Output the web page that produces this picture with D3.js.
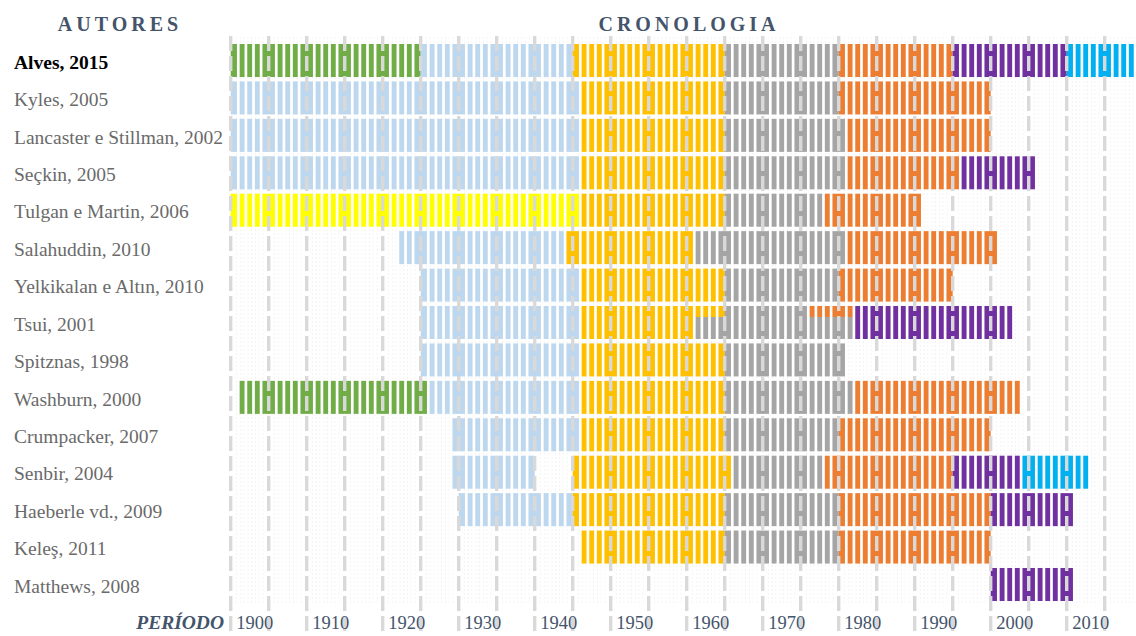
<!DOCTYPE html>
<html>
<head>
<meta charset="utf-8">
<script src="https://cdn.jsdelivr.net/npm/d3@7"></script>
<style>
  body { margin: 0; background: #fff; }
  svg { display: block; }
</style>
</head>
<body>
<svg class="cronologia-chart"></svg>
<script>
var autores = ["Alves, 2015", "Kyles, 2005", "Lancaster e Stillman, 2002", "Seçkin, 2005",
  "Tulgan e Martin, 2006", "Salahuddin, 2010", "Yelkikalan e Altın, 2010", "Tsui, 2001",
  "Spitznas, 1998", "Washburn, 2000", "Crumpacker, 2007", "Senbir, 2004",
  "Haeberle vd., 2009", "Keleş, 2011", "Matthews, 2008"];

var geracoes = ["Grandiosa", "Veteranos", "Silenciosa", "Baby Boomers", "X", "Y", "Z", "Alpha"];

var anosRotulo = [1900, 1910, 1920, 1930, 1940, 1950, 1960, 1970, 1980, 1990, 2000, 2010];

// autor, geração, início, fim, parcial (só a parte de cima da barra)
var periodos = [
  ["Alves, 2015", "Grandiosa", 1900, 1925],
  ["Alves, 2015", "Silenciosa", 1925, 1945],
  ["Alves, 2015", "Baby Boomers", 1945, 1965],
  ["Alves, 2015", "X", 1965, 1980],
  ["Alves, 2015", "Y", 1980, 1995],
  ["Alves, 2015", "Z", 1995, 2010],
  ["Alves, 2015", "Alpha", 2010, 2019],
  ["Kyles, 2005", "Silenciosa", 1900, 1946],
  ["Kyles, 2005", "Baby Boomers", 1946, 1965],
  ["Kyles, 2005", "X", 1965, 1980],
  ["Kyles, 2005", "Y", 1980, 2000],
  ["Lancaster e Stillman, 2002", "Silenciosa", 1900, 1946],
  ["Lancaster e Stillman, 2002", "Baby Boomers", 1946, 1965],
  ["Lancaster e Stillman, 2002", "X", 1965, 1981],
  ["Lancaster e Stillman, 2002", "Y", 1981, 2000],
  ["Seçkin, 2005", "Silenciosa", 1900, 1946],
  ["Seçkin, 2005", "Baby Boomers", 1946, 1965],
  ["Seçkin, 2005", "X", 1965, 1981],
  ["Seçkin, 2005", "Y", 1981, 1996],
  ["Seçkin, 2005", "Z", 1996, 2006],
  ["Tulgan e Martin, 2006", "Veteranos", 1900, 1946],
  ["Tulgan e Martin, 2006", "Baby Boomers", 1946, 1965],
  ["Tulgan e Martin, 2006", "X", 1965, 1978],
  ["Tulgan e Martin, 2006", "Y", 1978, 1991],
  ["Salahuddin, 2010", "Silenciosa", 1922, 1944],
  ["Salahuddin, 2010", "Baby Boomers", 1944, 1961],
  ["Salahuddin, 2010", "X", 1961, 1981],
  ["Salahuddin, 2010", "Y", 1981, 2001],
  ["Yelkikalan e Altın, 2010", "Silenciosa", 1925, 1946],
  ["Yelkikalan e Altın, 2010", "Baby Boomers", 1946, 1965],
  ["Yelkikalan e Altın, 2010", "X", 1965, 1980],
  ["Yelkikalan e Altın, 2010", "Y", 1980, 1995],
  ["Tsui, 2001", "Silenciosa", 1925, 1946],
  ["Tsui, 2001", "Baby Boomers", 1946, 1961],
  ["Tsui, 2001", "X", 1961, 1982],
  ["Tsui, 2001", "Baby Boomers", 1961, 1965, true],
  ["Tsui, 2001", "Y", 1976, 1982, true],
  ["Tsui, 2001", "Z", 1982, 2003],
  ["Spitznas, 1998", "Silenciosa", 1925, 1946],
  ["Spitznas, 1998", "Baby Boomers", 1946, 1965],
  ["Spitznas, 1998", "X", 1965, 1981],
  ["Washburn, 2000", "Grandiosa", 1901, 1926],
  ["Washburn, 2000", "Silenciosa", 1926, 1946],
  ["Washburn, 2000", "Baby Boomers", 1946, 1965],
  ["Washburn, 2000", "X", 1965, 1982],
  ["Washburn, 2000", "Y", 1982, 2004],
  ["Crumpacker, 2007", "Silenciosa", 1929, 1946],
  ["Crumpacker, 2007", "Baby Boomers", 1946, 1965],
  ["Crumpacker, 2007", "X", 1965, 1980],
  ["Crumpacker, 2007", "Y", 1980, 2000],
  ["Senbir, 2004", "Silenciosa", 1929, 1940],
  ["Senbir, 2004", "Baby Boomers", 1945, 1966],
  ["Senbir, 2004", "X", 1966, 1978],
  ["Senbir, 2004", "Y", 1978, 1995],
  ["Senbir, 2004", "Z", 1995, 2004],
  ["Senbir, 2004", "Alpha", 2004, 2013],
  ["Haeberle vd., 2009", "Silenciosa", 1930, 1945],
  ["Haeberle vd., 2009", "Baby Boomers", 1945, 1965],
  ["Haeberle vd., 2009", "X", 1965, 1980],
  ["Haeberle vd., 2009", "Y", 1980, 2000],
  ["Haeberle vd., 2009", "Z", 2000, 2011],
  ["Keleş, 2011", "Baby Boomers", 1946, 1965],
  ["Keleş, 2011", "X", 1965, 1980],
  ["Keleş, 2011", "Y", 1980, 2000],
  ["Matthews, 2008", "Z", 2000, 2011]
];

drawCronologia();

function drawCronologia() {
  var width = 1136;
  var height = 636;
  var serif = "'Liberation Serif', 'Times New Roman', serif";
  var titleColour = "#44546a";

  var x = d3.scaleLinear().domain([1900, 2010]).range([230.7, 1066.7]);
  var y = d3.scaleBand().domain(autores).range([41.8, 603.2]).paddingInner(0.118).paddingOuter(0.059);
  var colour = d3.scaleOrdinal().domain(geracoes)
    .range(["#70ad47", "#ffff00", "#bdd7ee", "#ffc000", "#a5a5a5", "#ed7d31", "#7030a0", "#00b0f0"]);

  var chart = d3.select(".cronologia-chart")
    .attr("width", width)
    .attr("height", height);

  var anos = d3.range(1900, 2020);
  var menores = anos.filter(function(a) { return a % 5 !== 0; });
  var maiores = anos.filter(function(a) { return a % 5 === 0; });

  // faint background texture
  var fundo = chart.append("g").attr("class", "fundo");
  [-2, 2].forEach(function(off) {
    fundo.selectAll(".f" + (off + 2))
      .data(menores)
      .enter().append("line")
      .attr("x1", function(d) { return x(d) + off; })
      .attr("x2", function(d) { return x(d) + off; })
      .attr("y1", 37)
      .attr("y2", 605)
      .style("stroke", "#f3f3f3")
      .style("stroke-width", 1)
      .style("stroke-dasharray", "2,2");
  });

  var barH = y.bandwidth();

  chart.append("g")
    .attr("class", "periodos")
    .selectAll("rect")
    .data(periodos)
    .enter().append("rect")
    .attr("x", function(d) { return x(d[2]); })
    .attr("width", function(d) { return x(d[3]) - x(d[2]); })
    .attr("y", function(d) { return y(d[0]); })
    .attr("height", function(d) { return d[4] ? barH / 3 : barH; })
    .style("fill", function(d) { return colour(d[1]); });

  // white yearly lines
  chart.append("g")
    .attr("class", "menores")
    .selectAll("line")
    .data(menores)
    .enter().append("line")
    .attr("x1", function(d) { return x(d); })
    .attr("x2", function(d) { return x(d); })
    .attr("y1", 36)
    .attr("y2", 606)
    .style("stroke", "#ffffff")
    .style("stroke-width", 2.7);

  // dashed gridlines every 5 years
  chart.append("g")
    .attr("class", "maiores")
    .selectAll("line")
    .data(maiores)
    .enter().append("line")
    .attr("x1", function(d) { return x(d); })
    .attr("x2", function(d) { return x(d); })
    .attr("y1", 36)
    .attr("y2", height)
    .style("stroke", "#d9d9d9")
    .style("stroke-width", 3.4)
    .style("stroke-dasharray", "15,5");

  // author labels
  chart.append("g")
    .attr("class", "autores")
    .selectAll("text")
    .data(autores)
    .enter().append("text")
    .attr("x", 14)
    .attr("y", function(d) { return y(d) + barH / 2; })
    .attr("dy", "0.42em")
    .style("font-family", serif)
    .style("font-size", "19.5px")
    .style("font-weight", function(d, i) { return i === 0 ? "bold" : "normal"; })
    .style("fill", function(d, i) { return i === 0 ? "#000000" : "#6a6a6a"; })
    .text(function(d) { return d; });

  // year axis
  var xAxis = d3.axisBottom(x).tickValues(anosRotulo).tickSize(0).tickFormat(d3.format("d"));
  var eixo = chart.append("g")
    .attr("class", "x axis")
    .attr("transform", "translate(0,629)")
    .call(xAxis);
  eixo.select(".domain").remove();
  eixo.selectAll("text")
    .attr("x", 5)
    .attr("y", 0)
    .attr("dy", 0)
    .style("text-anchor", "start")
    .style("font-family", serif)
    .style("font-size", "18.5px")
    .style("fill", titleColour);

  chart.append("text")
    .attr("x", 224)
    .attr("y", 629)
    .style("text-anchor", "end")
    .style("font-family", serif)
    .style("font-size", "19.5px")
    .style("font-weight", "bold")
    .style("font-style", "italic")
    .style("fill", titleColour)
    .text("PERÍODO");

  [["AUTORES", 120], ["CRONOLOGIA", 689]].forEach(function(t) {
    chart.append("text")
      .attr("class", "chart-title")
      .attr("x", t[1])
      .attr("y", 31)
      .style("text-anchor", "middle")
      .style("font-family", serif)
      .style("font-size", "20px")
      .style("font-weight", "bold")
      .style("letter-spacing", "4px")
      .style("fill", titleColour)
      .text(t[0]);
  });
}
</script>
</body>
</html>
